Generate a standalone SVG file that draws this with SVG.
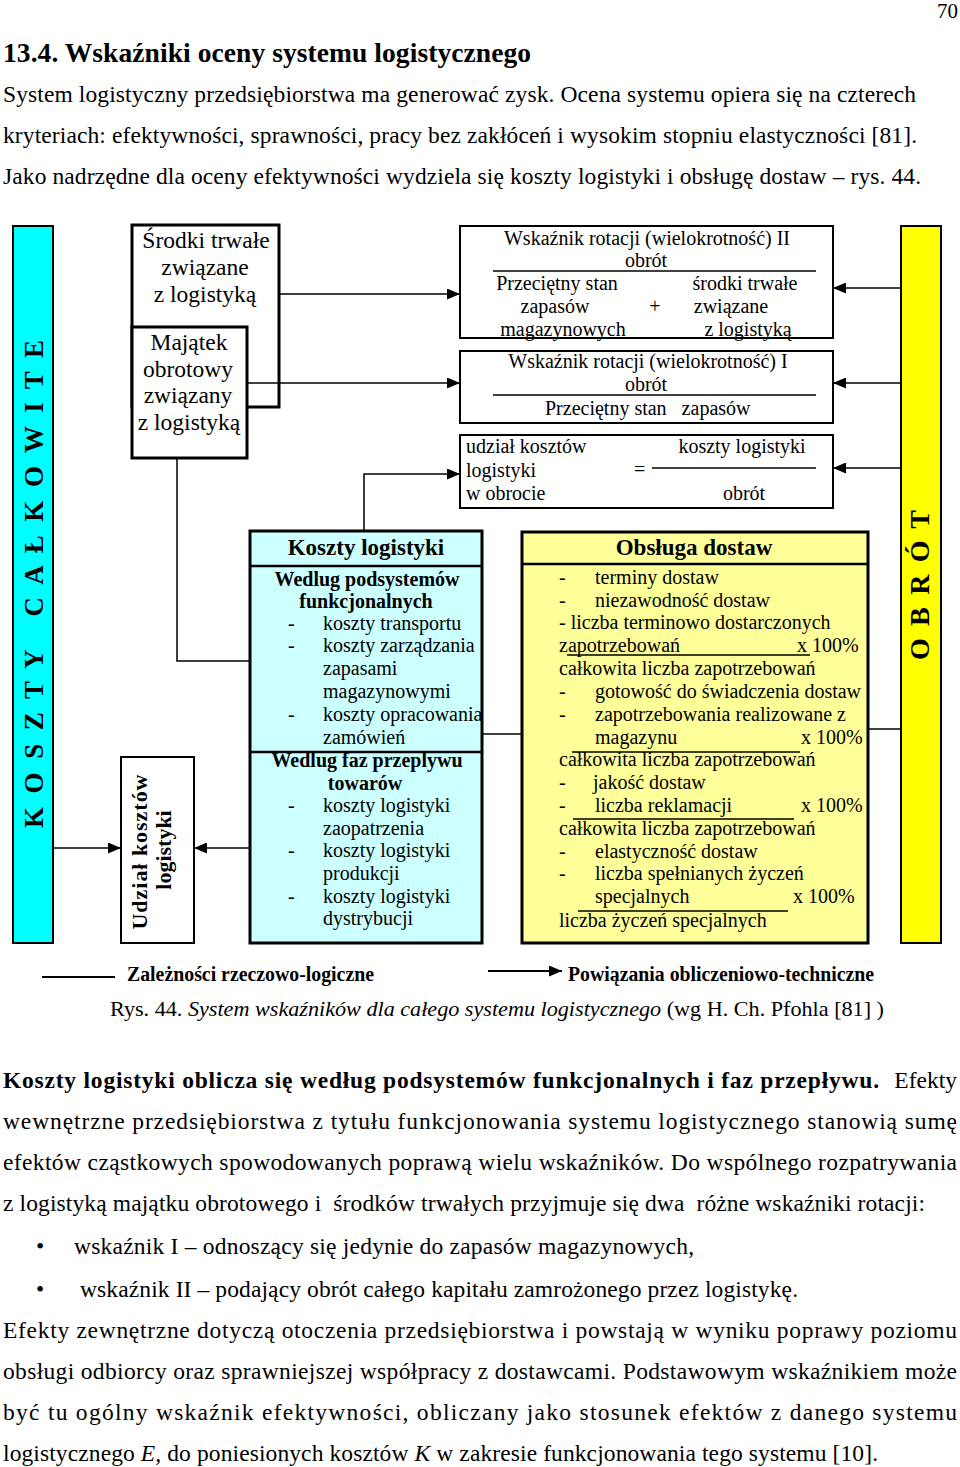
<svg xmlns="http://www.w3.org/2000/svg" width="960" height="1467" viewBox="0 0 960 1467">
<style>
text{font-family:"Liberation Serif","Times New Roman",serif;fill:#000}
.p{font-size:23.5px}
.h{font-size:27.5px;font-weight:bold}
.s{font-size:20px}
.m{font-size:23.5px}
.b{font-weight:bold}
.i{font-style:italic}
.c{text-anchor:middle}
.e{text-anchor:end}
.box{fill:#fff;stroke:#000;stroke-width:2}
.tb{fill:#fff;stroke:#000;stroke-width:3}
.ln{stroke:#000;stroke-width:1.5;fill:none}
.fr{stroke:#000;stroke-width:1.3}
</style>
<defs>
<marker id="ah" viewBox="0 0 13 11" refX="13" refY="5.5" markerWidth="13" markerHeight="11" markerUnits="userSpaceOnUse" orient="auto"><path d="M0,0 L13,5.5 L0,11 z" fill="#000"/></marker>
</defs>

<g id="page-text">
<text class="e" font-size="21" x="958" y="18">70</text>
<text class="h" x="3" y="62" textLength="528">13.4. Wskaźniki oceny systemu logistycznego</text>
<text class="p" x="3" y="102" textLength="913">System logistyczny przedsiębiorstwa ma generować zysk. Ocena systemu opiera się na czterech</text>
<text class="p" x="3" y="143" textLength="914">kryteriach: efektywności, sprawności, pracy bez zakłóceń i wysokim stopniu elastyczności [81].</text>
<text class="p" x="3" y="184" textLength="918">Jako nadrzędne dla oceny efektywności wydziela się koszty logistyki i obsługę dostaw – rys. 44.</text>
</g>

<g id="bar-koszty">
<rect x="13" y="226" width="40" height="717" fill="#00FFFF" stroke="#000" stroke-width="2"/>
<text class="b c" font-size="27" transform="translate(43,584) rotate(-90)" x="0" y="0" textLength="488" xml:space="preserve">K O S Z T Y   C A Ł K O W I T E</text>
</g>

<g id="bar-obrot">
<rect x="901" y="226" width="40" height="717" fill="#FFFF00" stroke="#000" stroke-width="2"/>
<text class="b c" font-size="28" transform="translate(929,585) rotate(-90)" x="0" y="0" textLength="150" xml:space="preserve">O B R Ó T</text>
</g>

<g id="srodki">
<rect class="tb" x="132" y="225" width="147" height="182"/>
<text class="m c" x="206" y="248">Środki trwałe</text>
<text class="m c" x="205" y="275">związane</text>
<text class="m c" x="205" y="302">z logistyką</text>
</g>

<g id="majatek">
<rect class="tb" x="132" y="327" width="115" height="131"/>
<text class="m c" x="189" y="350">Majątek</text>
<text class="m c" x="188" y="377">obrotowy</text>
<text class="m c" x="188" y="403">związany</text>
<text class="m c" x="189" y="430">z logistyką</text>
</g>

<g id="wskaznik-2">
<rect class="box" x="460" y="226" width="373" height="112"/>
<text class="s c" x="647" y="245">Wskaźnik rotacji (wielokrotność) II</text>
<text class="s c" x="646" y="267">obrót</text>
<line class="fr" x1="493" y1="271" x2="816" y2="271"/>
<text class="s c" x="557" y="290">Przeciętny stan</text>
<text class="s c" x="555" y="313">zapasów</text>
<text class="s c" x="563" y="336">magazynowych</text>
<text class="s c" x="655" y="313">+</text>
<text class="s c" x="745" y="290">środki trwałe</text>
<text class="s c" x="731" y="313">związane</text>
<text class="s c" x="748" y="336">z logistyką</text>
</g>

<g id="wskaznik-1">
<rect class="box" x="460" y="351" width="373" height="72"/>
<text class="s c" x="648" y="368">Wskaźnik rotacji (wielokrotność) I</text>
<text class="s c" x="646" y="391">obrót</text>
<line class="fr" x1="493" y1="395" x2="816" y2="395"/>
<text class="s" x="545" y="415" xml:space="preserve">Przeciętny stan   zapasów</text>
</g>

<g id="udzial-obrot">
<rect class="box" x="460" y="435" width="373" height="73"/>
<text class="s" x="466" y="453">udział kosztów</text>
<text class="s" x="466" y="477">logistyki</text>
<text class="s" x="466" y="500">w obrocie</text>
<text class="s" x="634" y="476">=</text>
<line class="fr" x1="652" y1="468" x2="816" y2="468"/>
<text class="s c" x="742" y="453">koszty logistyki</text>
<text class="s c" x="744" y="500">obrót</text>
</g>

<g id="koszty-logistyki">
<rect x="250" y="531" width="232" height="412" fill="#CCFFFF" stroke="#000" stroke-width="3"/>
<line x1="250" y1="566" x2="482" y2="566" stroke="#000" stroke-width="2.5"/>
<line x1="250" y1="752" x2="482" y2="752" stroke="#000" stroke-width="2.5"/>
<text class="b c" font-size="23" x="366" y="555">Koszty logistyki</text>
<text class="s b c" x="367" y="586">Wedlug podsystemów</text>
<text class="s b c" x="366" y="608">funkcjonalnych</text>
<text class="s" x="288" y="630">-</text><text class="s" x="323" y="630">koszty transportu</text>
<text class="s" x="288" y="652">-</text><text class="s" x="323" y="652">koszty zarządzania</text>
<text class="s" x="323" y="675">zapasami</text>
<text class="s" x="323" y="698">magazynowymi</text>
<text class="s" x="288" y="721">-</text><text class="s" x="323" y="721">koszty opracowania</text>
<text class="s" x="323" y="744">zamówień</text>
<text class="s b c" x="367" y="767">Wedlug faz przeplywu</text>
<text class="s b c" x="365" y="790">towarów</text>
<text class="s" x="288" y="812">-</text><text class="s" x="323" y="812">koszty logistyki</text>
<text class="s" x="323" y="835">zaopatrzenia</text>
<text class="s" x="288" y="857">-</text><text class="s" x="323" y="857">koszty logistyki</text>
<text class="s" x="323" y="880">produkcji</text>
<text class="s" x="288" y="903">-</text><text class="s" x="323" y="903">koszty logistyki</text>
<text class="s" x="323" y="925">dystrybucji</text>
</g>

<g id="udzial-kosztow">
<rect class="box" x="121" y="757" width="73" height="186"/>
<text class="b c" font-size="22" transform="translate(147,852) rotate(-90)" x="0" y="0" textLength="155">Udział kosztów</text>
<text class="b c" font-size="22" transform="translate(171,850) rotate(-90)" x="0" y="0">logistyki</text>
</g>

<g id="obsluga-dostaw">
<rect x="522" y="532" width="346" height="411" fill="#FFFF99" stroke="#000" stroke-width="3"/>
<line x1="522" y1="564" x2="868" y2="564" stroke="#000" stroke-width="2.5"/>
<text class="b c" font-size="23" x="694" y="555">Obsługa dostaw</text>
<text class="s" x="559" y="584">-</text><text class="s" x="595" y="584">terminy dostaw</text>
<text class="s" x="559" y="607">-</text><text class="s" x="595" y="607">niezawodność dostaw</text>
<text class="s" x="559" y="629">- liczba terminowo dostarczonych</text>
<text class="s" x="559" y="652">zapotrzebowań</text><text class="s" x="797" y="652">x 100%</text>
<line class="fr" x1="567" y1="655" x2="810" y2="655"/>
<text class="s" x="559" y="675">całkowita liczba zapotrzebowań</text>
<text class="s" x="559" y="698">-</text><text class="s" x="595" y="698">gotowość do świadczenia dostaw</text>
<text class="s" x="559" y="721">-</text><text class="s" x="595" y="721">zapotrzebowania realizowane z</text>
<text class="s" x="595" y="744">magazynu</text><text class="s" x="801" y="744">x 100%</text>
<line class="fr" x1="572" y1="752" x2="800" y2="752"/>
<text class="s" x="559" y="766">całkowita liczba zapotrzebowań</text>
<text class="s" x="559" y="789">-</text><text class="s" x="593" y="789">jakość dostaw</text>
<text class="s" x="559" y="812">-</text><text class="s" x="595" y="812">liczba reklamacji</text><text class="s" x="801" y="812">x 100%</text>
<line class="fr" x1="573" y1="819" x2="794" y2="819"/>
<text class="s" x="559" y="835">całkowita liczba zapotrzebowań</text>
<text class="s" x="559" y="858">-</text><text class="s" x="595" y="858">elastyczność dostaw</text>
<text class="s" x="559" y="880">-</text><text class="s" x="595" y="880">liczba spełnianych życzeń</text>
<text class="s" x="595" y="903">specjalnych</text><text class="s" x="793" y="903">x 100%</text>
<line class="fr" x1="578" y1="911" x2="788" y2="911"/>
<text class="s" x="559" y="927">liczba życzeń specjalnych</text>
</g>

<g id="connectors">
<path class="ln" d="M279,294 H460" marker-end="url(#ah)"/>
<path class="ln" d="M247,383 H460" marker-end="url(#ah)"/>
<path class="ln" d="M177,458 V661 H250"/>
<path class="ln" d="M364,531 V474 H460" marker-end="url(#ah)"/>
<path class="ln" d="M901,288 H833" marker-end="url(#ah)"/>
<path class="ln" d="M901,383 H833" marker-end="url(#ah)"/>
<path class="ln" d="M901,468 H833" marker-end="url(#ah)"/>
<path class="ln" d="M53,848 H121" marker-end="url(#ah)"/>
<path class="ln" d="M250,848 H194" marker-end="url(#ah)"/>
<path class="ln" d="M482,734 H522"/>
<path class="ln" d="M868,729 H901"/>
</g>

<g id="legend">
<line x1="42" y1="977" x2="115" y2="977" stroke="#000" stroke-width="2"/>
<text class="b" font-size="20" x="127" y="981" textLength="247" lengthAdjust="spacingAndGlyphs">Zależności rzeczowo-logiczne</text>
<path d="M488,971 H562" stroke="#000" stroke-width="2" marker-end="url(#ah)"/>
<text class="b" font-size="20" x="568" y="981" textLength="306" lengthAdjust="spacingAndGlyphs">Powiązania obliczeniowo-techniczne</text>
</g>

<g id="caption">
<text font-size="21" x="110" y="1016" textLength="774" lengthAdjust="spacingAndGlyphs">Rys. 44. <tspan class="i">System wskaźników dla całego systemu logistycznego</tspan> (wg H. Ch. Pfohla [81] )</text>
</g>

<g id="body-text">
<text class="p b" x="3" y="1088" textLength="876">Koszty logistyki oblicza się według podsystemów funkcjonalnych i faz przepływu.</text>
<text class="p e" x="957" y="1088">Efekty</text>
<text class="p" x="3" y="1129" textLength="954">wewnętrzne przedsiębiorstwa z tytułu funkcjonowania systemu logistycznego stanowią sumę</text>
<text class="p" x="3" y="1170" textLength="954">efektów cząstkowych spowodowanych poprawą wielu wskaźników. Do wspólnego rozpatrywania</text>
<text class="p" x="3" y="1211" textLength="922" xml:space="preserve">z logistyką majątku obrotowego i  środków trwałych przyjmuje się dwa  różne wskaźniki rotacji:</text>
<text class="p" font-size="26" x="36" y="1254">•</text>
<text class="p" x="74" y="1254" textLength="620">wskaźnik I – odnoszący się jedynie do zapasów magazynowych,</text>
<text class="p" font-size="26" x="36" y="1297">•</text>
<text class="p" x="80" y="1297" textLength="718">wskaźnik II – podający obrót całego kapitału zamrożonego przez logistykę.</text>
<text class="p" x="3" y="1338" textLength="954">Efekty zewnętrzne dotyczą otoczenia przedsiębiorstwa i powstają w wyniku poprawy poziomu</text>
<text class="p" x="3" y="1379" textLength="954">obsługi odbiorcy oraz sprawniejszej współpracy z dostawcami. Podstawowym wskaźnikiem może</text>
<text class="p" x="3" y="1420" textLength="954">być tu ogólny wskaźnik efektywności, obliczany jako stosunek efektów z danego systemu</text>
<text class="p" x="3" y="1461" textLength="875">logistycznego <tspan class="i">E,</tspan> do poniesionych kosztów <tspan class="i">K</tspan> w zakresie funkcjonowania tego systemu [10].</text>
</g>
</svg>
